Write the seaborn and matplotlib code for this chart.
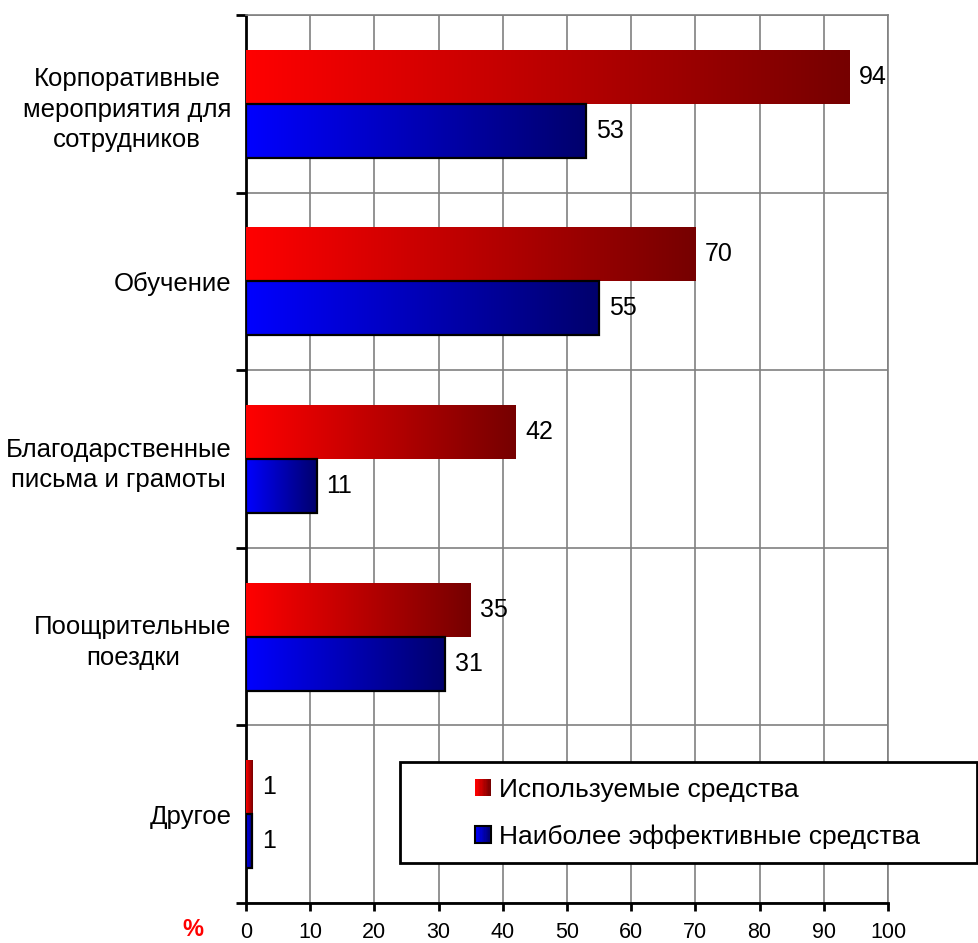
import numpy as np
import pandas as pd
import seaborn as sns
import matplotlib.pyplot as plt
from matplotlib.patches import Rectangle
from matplotlib.legend_handler import HandlerBase
from matplotlib.colors import to_rgb

categories = ["Корпоративные\nмероприятия для\nсотрудников", "Обучение",
              "Благодарственные\nписьма и грамоты", "Поощрительные\nпоездки", "Другое"]
used = [94, 70, 42, 35, 1]
effective = [53, 55, 11, 31, 1]
series = ["Используемые средства", "Наиболее эффективные средства"]
xticks = [0, 10, 20, 30, 40, 50, 60, 70, 80, 90, 100]

red_grad = ("#ff0000", "#760000")
blue_grad = ("#0000ff", "#00006c")

df = pd.DataFrame({
    "cat": categories * 2,
    "val": used + effective,
    "ser": [series[0]] * 5 + [series[1]] * 5,
})

sns.set_style("white")
plt.rcParams["font.family"] = ["Liberation Sans", "DejaVu Sans"]
plt.rcParams["text.color"] = "black"
plt.rcParams["xtick.color"] = "black"
plt.rcParams["ytick.color"] = "black"
plt.rcParams["xtick.labelcolor"] = "black"
plt.rcParams["ytick.labelcolor"] = "black"


def grad_array(c0, c1, n=256):
    a = np.array(to_rgb(c0))
    b = np.array(to_rgb(c1))
    t = np.linspace(0, 1, n)[:, None]
    return (a + (b - a) * t)[None, :, :]


class GradHandler(HandlerBase):
    def __init__(self, c0, c1, edge):
        super().__init__()
        self.c0, self.c1, self.edge = c0, c1, edge

    def create_artists(self, legend, orig_handle, xdescent, ydescent,
                       width, height, fontsize, trans):
        arts = []
        n = 12
        cols = grad_array(self.c0, self.c1, n)[0]
        for i in range(n):
            r = Rectangle((-xdescent + width * i / n, -ydescent), width / n + 0.3, height,
                          facecolor=cols[i], edgecolor="none", transform=trans)
            arts.append(r)
        if self.edge:
            arts.append(Rectangle((-xdescent, -ydescent), width, height, facecolor="none",
                                  edgecolor="black", lw=1.5, transform=trans))
        return arts


fig = plt.figure(figsize=(9.79, 9.43), dpi=100)
ax = fig.add_axes([246 / 979, 1 - 903 / 943, (888 - 246) / 979, (903 - 15) / 943])

sns.barplot(data=df, y="cat", x="val", hue="ser", orient="h", ax=ax,
            palette=["#ff0000", "#0000ff"], width=0.608, gap=0, legend=False,
            saturation=1, zorder=3)

# gradient fills
for p in list(ax.patches):
    x, y = p.get_x(), p.get_y()
    w, h = p.get_width(), p.get_height()
    fc = p.get_facecolor()
    if fc[0] > fc[2]:
        c0, c1, edge = red_grad[0], red_grad[1], False
    else:
        c0, c1, edge = blue_grad[0], blue_grad[1], True
    ax.imshow(grad_array(c0, c1), extent=[x, x + w, y + h, y], aspect="auto",
              interpolation="bilinear", zorder=3)
    p.set_facecolor("none")
    p.set_zorder(4)
    if edge:
        p.set_edgecolor("black")
        p.set_linewidth(1.6)
    else:
        p.set_edgecolor("none")

for cont in ax.containers:
    ax.bar_label(cont, padding=7, fontsize=18, color="black", zorder=5)

ax.set_xlim(0, 100)
ax.set_ylim(4.5, -0.5)
ax.set_xticks(xticks)
ax.set_xticklabels([str(t) for t in xticks], fontsize=15.5)
ax.set_yticks(range(5))
ax.set_yticklabels(categories, fontsize=18.5, multialignment="center", linespacing=1.35)
ax.set_yticks(np.arange(-0.5, 5, 1), minor=True)
ax.set_xlabel("")
ax.set_ylabel("")

ax.tick_params(axis="y", which="major", length=0, pad=10.5)
ax.tick_params(axis="y", which="minor", length=7, width=2, color="black", direction="out", left=True)
ax.tick_params(axis="x", length=6, width=2, color="black", direction="out", bottom=True, pad=8)

ax.grid(False)
ax.xaxis.grid(True, color="#808080", lw=1.2, zorder=0)
ax.yaxis.grid(True, which="minor", color="#808080", lw=1.2, zorder=0)
ax.set_axisbelow(True)

for s in ["left", "bottom"]:
    ax.spines[s].set_color("black")
    ax.spines[s].set_linewidth(2)
for s in ["top", "right"]:
    ax.spines[s].set_color("#808080")
    ax.spines[s].set_linewidth(1.2)

# percent sign
fig.text(193 / 979, 1 - 930 / 943, "%", color="#ff0000", fontsize=17, fontweight="bold",
         ha="center", va="center")

# legend box
fig.patches.append(Rectangle((400 / 979, 1 - 863 / 943), 577 / 979, 101 / 943,
                             transform=fig.transFigure, facecolor="white",
                             edgecolor="black", lw=2, zorder=6))
h1 = Rectangle((0, 0), 1, 1)
h2 = Rectangle((0, 0), 1, 1)
leg = fig.legend([h1, h2], series, loc="upper left",
                 bbox_to_anchor=(475 / 979, 1 - 778 / 943), frameon=False,
                 fontsize=19, handlelength=0.6, handleheight=0.6,
                 handletextpad=0.3, labelspacing=0.85, borderpad=0, borderaxespad=0,
                 handler_map={h1: GradHandler(red_grad[0], red_grad[1], False),
                              h2: GradHandler(blue_grad[0], blue_grad[1], True)})
leg.set_zorder(7)

fig.savefig("out.png", dpi=100)
